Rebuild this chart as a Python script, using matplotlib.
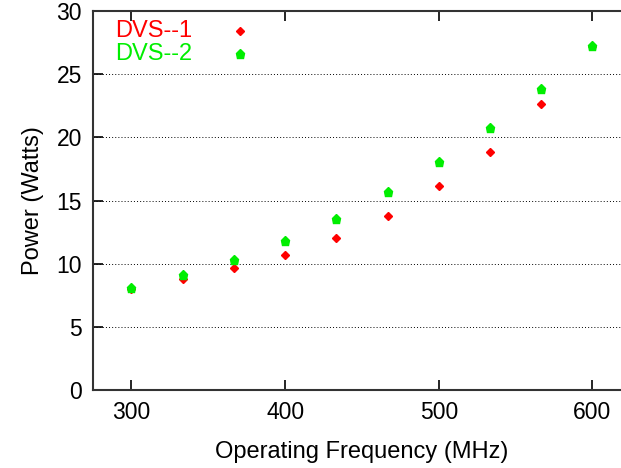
import numpy as np
import matplotlib
matplotlib.use("Agg")
import matplotlib.pyplot as plt

plt.rcParams['font.family'] = ['Liberation Sans', 'DejaVu Sans']

freq = [300, 333.3, 366.7, 400, 433.3, 466.7, 500, 533.3, 566.7, 600]
dvs1 = [8.0, 8.76, 9.63, 10.69, 12.06, 13.8, 16.15, 18.82, 22.64, 27.2]
dvs2 = [8.05, 9.1, 10.32, 11.8, 13.54, 15.65, 18.03, 20.74, 23.8, 27.24]

W, H = 621, 468
fig = plt.figure(figsize=(W / 100, H / 100), dpi=100)
# axes runs past the right edge of the picture (cropped like the original)
x0, x1 = 275, 625
px_per_mhz = (592 - 131) / 300.0
left = 93
right = left + (x1 - x0) * px_per_mhz
bottom, top = 390, 11
ax = fig.add_axes([left / W, 1 - bottom / H, (right - left) / W, (bottom - top) / H])

ax.plot(freq, dvs1, linestyle='none', marker='D', markersize=4.5,
        color='#ff0000', label='DVS--1')
ax.plot(freq, dvs2, linestyle='none', marker='p', markersize=6.5,
        color='#00ee00', label='DVS--2')

ax.set_xlim(x0, x1)
ax.set_ylim(0, 30)
ax.set_xticks([300, 400, 500, 600])
ax.set_yticks([0, 5, 10, 15, 20, 25, 30])
for yv in [5, 10, 15, 20, 25]:
    ax.axhline(yv, color='black', linestyle=(0, (1, 2.2)), linewidth=0.7, zorder=0)

ax.tick_params(direction='in', length=7, width=1.2, labelsize=16.5, top=True,
               pad=8)
for s in ax.spines.values():
    s.set_color('#333333')
    s.set_linewidth(1.5)

ax.set_xlabel('Operating Frequency (MHz)', fontsize=17, labelpad=12)
ax.set_ylabel('Power (Watts)', fontsize=17, labelpad=9)

# gnuplot-style key: text on the left, sample on the right
for i, (lab, col, mk, ms) in enumerate([('DVS--1', '#ff0000', 'D', 4.5),
                                        ('DVS--2', '#00ee00', 'p', 6.5)]):
    ty = 1 - (31 + 23 * i) / H
    fig.text(115 / W, ty, lab, color=col, fontsize=17, va='center', ha='left')
    fig.add_artist(matplotlib.lines.Line2D([240 / W], [ty], marker=mk,
                                           markersize=ms, color=col,
                                           linestyle='none'))

fig.savefig('out.png', dpi=100)
